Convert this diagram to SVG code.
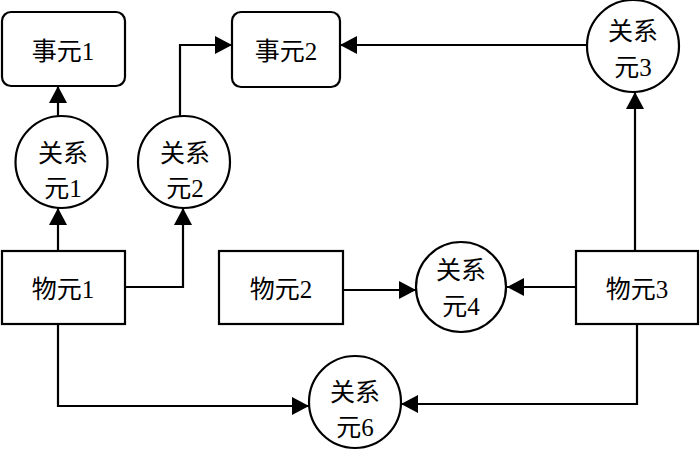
<svg xmlns="http://www.w3.org/2000/svg" width="700" height="450" viewBox="0 0 700 450">
<defs>
<style>
.box{fill:#fff;stroke:#000;stroke-width:2.2}
.ell{fill:#fff;stroke:#000;stroke-width:2.2}
.t{font-family:"Liberation Serif","Noto Sans CJK SC",serif;font-size:25px;fill:#000;text-anchor:middle}
.c{fill:none;stroke:#000;stroke-width:2.2;marker-end:url(#ah)}
</style>
<marker id="ah" markerUnits="userSpaceOnUse" markerWidth="17" markerHeight="18" refX="17" refY="9" orient="auto" viewBox="0 0 17 18">
<path d="M0,0 L17,9 L0,18 z" fill="#000"/>
</marker>
</defs>
<rect width="700" height="450" fill="#fff"/>
<g id="connectors">
<path class="c" d="M58,116 V86"/>
<path class="c" d="M58,251 V208"/>
<path class="c" d="M125,287 H183 V208"/>
<path class="c" d="M180,116 V45 H232"/>
<path class="c" d="M587,45 H340"/>
<path class="c" d="M635,251 V92"/>
<path class="c" d="M343,290 H416"/>
<path class="c" d="M576,287 H507"/>
<path class="c" d="M58,324 V406 H309"/>
<path class="c" d="M637,324 V404 H401"/>
</g>
<g id="shiyuan1">
<rect class="box" x="2" y="12" width="123" height="74" rx="9"/>
<text class="t" x="63" y="60">事元1</text>
</g>
<g id="shiyuan2">
<rect class="box" x="232" y="12" width="108" height="75" rx="9"/>
<text class="t" x="286" y="60">事元2</text>
</g>
<g id="guanxi1">
<circle class="ell" cx="61.5" cy="162" r="46"/>
<text class="t" x="63" y="162">关系</text>
<text class="t" x="63" y="197">元1</text>
</g>
<g id="guanxi2">
<circle class="ell" cx="184" cy="162" r="46"/>
<text class="t" x="185" y="162">关系</text>
<text class="t" x="185" y="197">元2</text>
</g>
<g id="guanxi3">
<circle class="ell" cx="633" cy="46" r="46"/>
<text class="t" x="633" y="40">关系</text>
<text class="t" x="633" y="76">元3</text>
</g>
<g id="wuyuan1">
<rect class="box" x="2" y="251" width="123" height="73"/>
<text class="t" x="63" y="298">物元1</text>
</g>
<g id="wuyuan2">
<rect class="box" x="219" y="251" width="124" height="73"/>
<text class="t" x="281" y="298">物元2</text>
</g>
<g id="wuyuan3">
<rect class="box" x="576" y="251" width="122" height="73"/>
<text class="t" x="637" y="298">物元3</text>
</g>
<g id="guanxi4">
<circle class="ell" cx="461" cy="287" r="45"/>
<text class="t" x="461" y="279">关系</text>
<text class="t" x="461" y="315">元4</text>
</g>
<g id="guanxi6">
<circle class="ell" cx="355" cy="402" r="46"/>
<text class="t" x="355" y="401">关系</text>
<text class="t" x="355" y="436">元6</text>
</g>
</svg>
